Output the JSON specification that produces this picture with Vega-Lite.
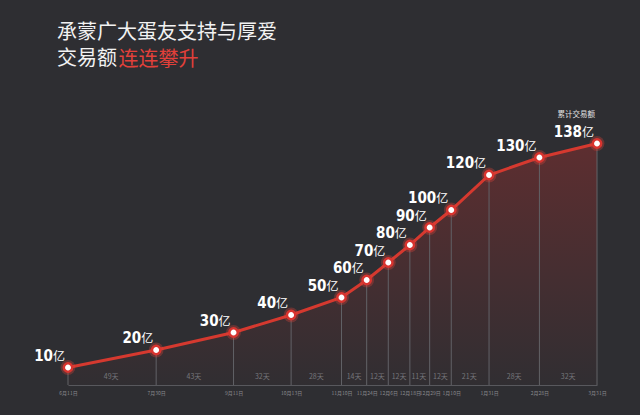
{
  "$schema": "https://vega.github.io/schema/vega-lite/v6.json",
  "autosize": "none",
  "width": 529,
  "height": 245,
  "padding": {"left": 68, "top": 140, "right": 43, "bottom": 30},
  "background": "#2e2e32",
  "title": {
    "text": "承蒙广大蛋友支持与厚爱",
    "subtitle": "交易额",
    "anchor": "start",
    "frame": "group",
    "dx": -11,
    "offset": -20,
    "font": "Noto Sans CJK SC",
    "fontSize": 20,
    "fontWeight": "normal",
    "color": "#f2f2f2",
    "subtitleFont": "Noto Sans CJK SC",
    "subtitleFontSize": 20,
    "subtitleColor": "#f2f2f2",
    "subtitlePadding": 6
  },
  "datasets": {
    "points": [
      {"date": "2015-06-11", "value": 10, "num": "10", "note": ""},
      {"date": "2015-07-30", "value": 20, "num": "20", "note": ""},
      {"date": "2015-09-11", "value": 30, "num": "30", "note": ""},
      {"date": "2015-10-13", "value": 40, "num": "40", "note": ""},
      {"date": "2015-11-10", "value": 50, "num": "50", "note": ""},
      {"date": "2015-11-24", "value": 60, "num": "60", "note": ""},
      {"date": "2015-12-06", "value": 70, "num": "70", "note": ""},
      {"date": "2015-12-18", "value": 80, "num": "80", "note": ""},
      {"date": "2015-12-29", "value": 90, "num": "90", "note": ""},
      {"date": "2016-01-10", "value": 100, "num": "100", "note": ""},
      {"date": "2016-01-31", "value": 120, "num": "120", "note": ""},
      {"date": "2016-02-28", "value": 130, "num": "130", "note": ""},
      {"date": "2016-03-31", "value": 138, "num": "138", "note": "累计交易额"}
    ],
    "segments": [
      {"date": "2015-07-05", "days": "49天"},
      {"date": "2015-08-20", "days": "43天"},
      {"date": "2015-09-27", "days": "32天"},
      {"date": "2015-10-27", "days": "28天"},
      {"date": "2015-11-17", "days": "14天"},
      {"date": "2015-11-30", "days": "12天"},
      {"date": "2015-12-12", "days": "12天"},
      {"date": "2015-12-23", "days": "11天"},
      {"date": "2016-01-04", "days": "12天"},
      {"date": "2016-01-20", "days": "21天"},
      {"date": "2016-02-14", "days": "28天"},
      {"date": "2016-03-15", "days": "32天"}
    ]
  },
  "layer": [
    {
      "data": {"name": "points", "format": {"parse": {"date": "date:'%Y-%m-%d'"}}},
      "encoding": {
        "x": {
          "field": "date",
          "type": "temporal",
          "scale": {
            "domain": [
              {"year": 2015, "month": 6, "date": 11},
              {"year": 2016, "month": 3, "date": 31}
            ],
            "nice": false
          },
          "axis": {
            "title": null,
            "values": [
              {"year": 2015, "month": 6, "date": 11},
              {"year": 2015, "month": 7, "date": 30},
              {"year": 2015, "month": 9, "date": 11},
              {"year": 2015, "month": 10, "date": 13},
              {"year": 2015, "month": 11, "date": 10},
              {"year": 2015, "month": 11, "date": 24},
              {"year": 2015, "month": 12, "date": 6},
              {"year": 2015, "month": 12, "date": 18},
              {"year": 2015, "month": 12, "date": 29},
              {"year": 2016, "month": 1, "date": 10},
              {"year": 2016, "month": 1, "date": 31},
              {"year": 2016, "month": 2, "date": 28},
              {"year": 2016, "month": 3, "date": 31}
            ],
            "format": "%-m月%-d日",
            "labelOverlap": false,
            "labelFont": "Noto Sans CJK SC",
            "labelFontSize": 5,
            "labelColor": "#8a8a8f",
            "labelPadding": 5,
            "labelFlush": false,
            "ticks": false,
            "grid": false,
            "domainColor": "#58585d",
            "domainWidth": 1
          }
        },
        "y": {
          "field": "value",
          "type": "quantitative",
          "scale": {"domain": [0, 140], "nice": false},
          "axis": {
            "title": "连连攀升",
            "titleAngle": 0,
            "titleX": 50,
            "titleY": -75,
            "titleAlign": "left",
            "titleBaseline": "alphabetic",
            "titleFont": "Noto Sans CJK SC",
            "titleFontSize": 20,
            "titleFontWeight": "normal",
            "titleColor": "#e2403a",
            "labels": false,
            "ticks": false,
            "domain": false,
            "grid": false
          }
        }
      },
      "layer": [
        {
          "mark": {
            "type": "area",
            "fill": {
              "gradient": "linear",
              "x1": 0, "y1": 0, "x2": 0, "y2": 1,
              "stops": [
                {"offset": 0, "color": "rgba(185,46,44,0.34)"},
                {"offset": 1, "color": "rgba(185,46,44,0.02)"}
              ]
            }
          }
        },
        {
          "mark": {"type": "rule", "color": "#626267", "strokeWidth": 1},
          "encoding": {"y2": {"datum": 0}}
        },
        {
          "mark": {"type": "line", "color": "#d5392f", "strokeWidth": 3}
        },
        {
          "mark": {"type": "circle", "color": "#e8443c", "opacity": 0.3, "size": 220}
        },
        {
          "mark": {"type": "point", "shape": "circle", "filled": true, "fill": "#ffffff", "stroke": "#d8342f", "strokeWidth": 2.5, "size": 70, "opacity": 1}
        },
        {
          "mark": {"type": "text", "align": "right", "baseline": "alphabetic", "dx": -15, "dy": -7, "font": "DejaVu Sans Condensed, Roboto, sans-serif", "fontWeight": "bold", "fontSize": 15, "color": "#ffffff"},
          "encoding": {"text": {"field": "num"}}
        },
        {
          "mark": {"type": "text", "align": "right", "baseline": "alphabetic", "dx": -3, "dy": -7, "font": "Noto Sans CJK SC", "fontSize": 12, "color": "#ffffff"},
          "encoding": {"text": {"value": "亿"}}
        },
        {
          "mark": {"type": "text", "align": "right", "baseline": "alphabetic", "dx": -2, "dy": -27, "font": "Noto Sans CJK SC", "fontSize": 7.5, "color": "#e0e0e0"},
          "encoding": {"text": {"field": "note"}}
        }
      ]
    },
    {
      "data": {"name": "segments", "format": {"parse": {"date": "date:'%Y-%m-%d'"}}},
      "mark": {"type": "text", "baseline": "alphabetic", "dy": -6, "font": "Noto Sans CJK SC", "fontSize": 7, "color": "#76767b"},
      "encoding": {
        "x": {"field": "date", "type": "temporal"},
        "y": {"datum": 0, "type": "quantitative"},
        "text": {"field": "days", "type": "nominal"}
      }
    }
  ],
  "config": {
    "view": {"stroke": null}
  }
}
